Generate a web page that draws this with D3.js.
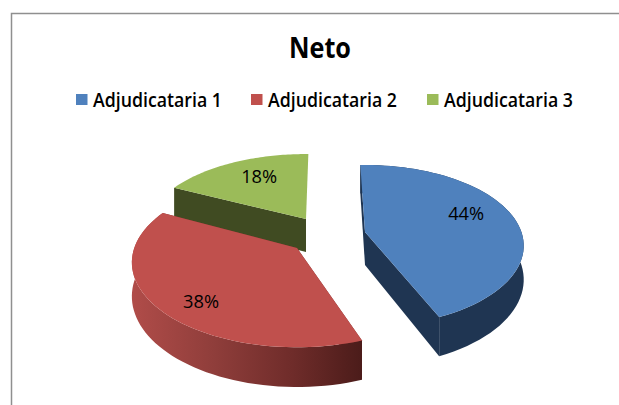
<!DOCTYPE html>
<html><head><meta charset="utf-8">
<style>html,body{margin:0;padding:0;background:#fff;overflow:hidden}svg{display:block}text{font-family:"Open Sans","Noto Sans",sans-serif}</style>
<script src="https://cdnjs.cloudflare.com/ajax/libs/d3/7.8.5/d3.min.js"></script>
</head><body><script>
const categories=["Adjudicataria 1","Adjudicataria 2","Adjudicataria 3"];
const shares=[44,38,18];
const titleText="Neto";
const topColors=["#4f81bd","#c0504d","#9bbb59"];
const wallColors=["#1f3552","url(#redWall)","#404b22"];
const sideColors=["#1f3552","#7a302d","#404b22"];
// layout: exploded slice centres, per-slice view adjustment, label spots, legend positions
const centers=[[365,232],[297,248],[306,219]];
const twistDeg=[0,4,3];
const rxScale=[0.99,1.03,1];
const ryScale=[0.98,1.03,0.95];
const labelRadius=[0.68,0.72,0.62];
const labelDy=[0,17,1];
const showBackWalls=[true,true,false];
const legendX=[76,251,427], legendTextW=129;
const RX=158,RY=80,K=0.17,DEPTH=33;
const drawOrder=[2,1,0];

const svg=d3.select("body").append("svg").attr("width",619).attr("height",405);
const grad=svg.append("defs").append("linearGradient").attr("id","redWall").attr("gradientUnits","userSpaceOnUse")
  .attr("x1",132).attr("x2",361).attr("y1",0).attr("y2",0);
[[0,"#b04c49"],[0.35,"#903e3b"],[0.7,"#6f2c2a"],[1,"#4c1c1a"]].forEach(s=>grad.append("stop").attr("offset",s[0]).attr("stop-color",s[1]));

svg.append("rect").attr("x",11.5).attr("y",13.5).attr("width",640).attr("height",420)
  .attr("fill","#fff").attr("stroke","#8f8f8f").attr("stroke-width",1.5);

svg.append("text").attr("x",320).attr("y",58).attr("text-anchor","middle")
  .attr("font-size",29).attr("font-weight",700).attr("fill","#000")
  .attr("textLength",62).attr("lengthAdjust","spacingAndGlyphs").text(titleText);

categories.forEach((c,i)=>{
  svg.append("rect").attr("x",legendX[i]).attr("y",94).attr("width",11.5).attr("height",11).attr("fill",topColors[i]);
  svg.append("text").attr("x",legendX[i]+17).attr("y",107).attr("font-size",19).attr("font-weight",600)
    .attr("fill","#000").attr("textLength",legendTextW).attr("lengthAdjust","spacingAndGlyphs").text(c);
});

const arcs=d3.pie().sort(null).value(d=>d).startAngle(-2*Math.PI/180).endAngle(358*Math.PI/180)(shares);
function proj(a,r,i,drop){
  const t=a+twistDeg[i]*Math.PI/180,c=centers[i];
  const u=r*Math.sin(t),v=-r*Math.cos(t),s=1/(1-K*v);
  return [c[0]+RX*rxScale[i]*u*s,c[1]+RY*ryScale[i]*v*s+(drop?DEPTH*s:0)];
}
const line=d3.line();
function rim(d,i,drop){return d3.range(0,61).map(j=>proj(d.startAngle+(d.endAngle-d.startAngle)*j/60,1,i,drop));}

drawOrder.forEach(i=>{
  const d=arcs[i],g=svg.append("g");
  const top=rim(d,i,false),low=rim(d,i,true);
  const c0=proj(0,0,i,false),c1=proj(0,0,i,true);
  g.append("path").attr("d",line([c0,top[0],low[0],c1])+"Z").attr("fill",sideColors[i]);
  if(showBackWalls[i]){
    g.append("path").attr("d",line([c0,top[60],low[60],c1])+"Z").attr("fill",sideColors[i]);
    g.append("path").attr("d",line(top.concat(low.slice().reverse()))+"Z").attr("fill",wallColors[i]);
  }
  g.append("path").attr("d",line([c0].concat(top))+"Z").attr("fill",topColors[i]);
  const m=(d.startAngle+d.endAngle)/2,p=proj(m,labelRadius[i],i,false);
  g.append("text").attr("x",p[0]).attr("y",p[1]+labelDy[i]).attr("text-anchor","middle").attr("font-size",19)
    .attr("font-weight",500).attr("fill","#000").attr("textLength",36).attr("lengthAdjust","spacingAndGlyphs").text(shares[i]+"%");
});
</script></body></html>
